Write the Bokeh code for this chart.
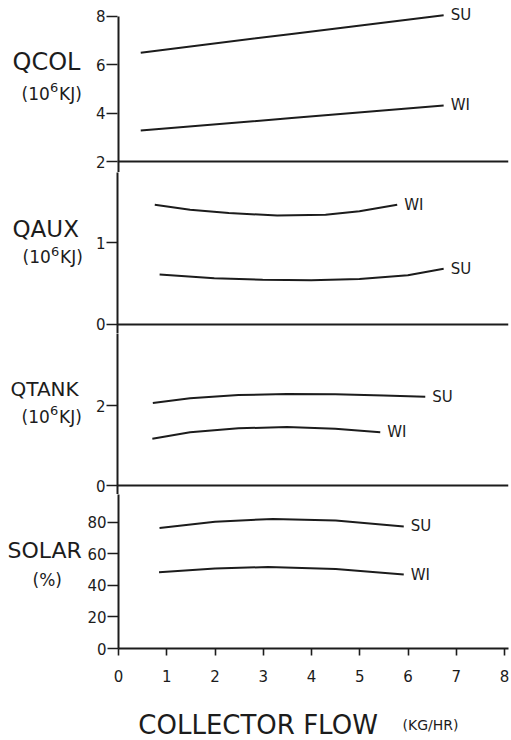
from bokeh.plotting import figure
from bokeh.layouts import column, row
from bokeh.models import Span, FixedTicker, Range1d
from bokeh.core.properties import value
from bokeh.embed import file_html
from bokeh.resources import INLINE

# ---------------- data ----------------
x_ticks = [0, 1, 2, 3, 4, 5, 6, 7, 8]
x_label = "COLLECTOR FLOW"
x_unit = "(KG/HR)"
energy_unit = ["(10", "6", "KJ)"]   # (10^6 KJ), drawn with a raised 6

# QCOL (10^6 KJ)
qcol_name = "QCOL"
qcol_ticks = [2, 4, 6, 8]
qcol_su_x = [0.48, 3.6, 6.74]
qcol_su_y = [6.50, 7.28, 8.05]
qcol_wi_x = [0.48, 3.6, 6.74]
qcol_wi_y = [3.28, 3.80, 4.32]

# QAUX (10^6 KJ)
qaux_name = "QAUX"
qaux_ticks = [0, 1]
qaux_wi_x = [0.77, 1.5, 2.3, 3.3, 4.3, 5.0, 5.78]
qaux_wi_y = [1.46, 1.40, 1.36, 1.33, 1.34, 1.38, 1.46]
qaux_su_x = [0.87, 2.0, 3.0, 4.0, 5.0, 6.0, 6.74]
qaux_su_y = [0.61, 0.565, 0.545, 0.54, 0.555, 0.60, 0.68]

# QTANK (10^6 KJ)
qtank_name = "QTANK"
qtank_ticks = [0, 2]
qtank_su_x = [0.73, 1.5, 2.5, 3.5, 4.5, 5.5, 6.36]
qtank_su_y = [2.06, 2.18, 2.26, 2.29, 2.28, 2.25, 2.22]
qtank_wi_x = [0.72, 1.5, 2.5, 3.5, 4.5, 5.43]
qtank_wi_y = [1.17, 1.33, 1.43, 1.46, 1.42, 1.33]

# SOLAR (%)
solar_name, solar_unit = "SOLAR", "(%)"
solar_ticks = [0, 20, 40, 60, 80]
solar_su_x = [0.85, 2.0, 3.2, 4.5, 5.91]
solar_su_y = [76.3, 80.3, 82.0, 81.0, 77.3]
solar_wi_x = [0.84, 2.0, 3.1, 4.5, 5.91]
solar_wi_y = [48.2, 50.6, 51.6, 50.3, 46.8]

series_su = "SU"
series_wi = "WI"

# ---------------- styling ----------------
INK = "#1c1c1c"
FONT = "DejaVu Sans"
LW = 84          # width of the left-hand caption strip
PW = 511 - LW    # width of each panel figure
x_range = Range1d(0, 8.08)


def bare(p):
    p.outline_line_color = None
    p.xgrid.visible = False
    p.ygrid.visible = False
    p.background_fill_color = "white"
    p.border_fill_color = "white"


def make_panel(height, y_range, ticks, border_top=0, border_bottom=0, xaxis=False):
    p = figure(width=PW, height=height, x_range=x_range, y_range=y_range,
               output_backend="svg", toolbar_location=None,
               x_axis_location="below" if xaxis else None,
               min_border_left=117 - LW, min_border_right=3,
               min_border_top=border_top, min_border_bottom=border_bottom)
    bare(p)
    ax = p.yaxis[0]
    ax.ticker = FixedTicker(ticks=ticks)
    ax.major_tick_out = 11
    ax.major_tick_in = 0
    ax.minor_tick_out = 0
    ax.minor_tick_in = 0
    ax.axis_line_width = 2
    ax.axis_line_color = INK
    ax.major_tick_line_width = 1.6
    ax.major_tick_line_color = INK
    ax.major_label_standoff = 1
    ax.major_label_text_font = FONT
    ax.major_label_text_font_size = "15px"
    ax.major_label_text_color = INK
    return p


def make_caption(height, y_range, border_top=0, border_bottom=0):
    c = figure(width=LW, height=height, x_range=Range1d(0, LW), y_range=y_range,
               output_backend="svg", toolbar_location=None,
               x_axis_location=None, y_axis_location=None,
               min_border_left=0, min_border_right=0,
               min_border_top=border_top, min_border_bottom=border_bottom)
    bare(c)
    return c


def cap_text(c, x, y, txt, size, dy=0):
    c.text(x=[x], y=[y], text=[txt], text_font=value(FONT), text_font_size=size,
           text_color=INK, text_baseline="middle", text_align="left", y_offset=dy)


def cap_energy_unit(c, x, y):
    cap_text(c, x, y, energy_unit[0], "17px")
    cap_text(c, x + 28.5, y, energy_unit[1], "13px", dy=-6)
    cap_text(c, x + 37.5, y, energy_unit[2], "17px")


def draw(p, xs, ys, name):
    p.line(xs, ys, line_color=INK, line_width=2)
    p.text(x=[xs[-1]], y=[ys[-1]], text=[name], x_offset=7,
           text_font=value(FONT), text_font_size="15px", text_color=INK,
           text_baseline="middle", text_align="left")


def separator(p, loc):
    p.add_layout(Span(location=loc, dimension="width", line_color=INK, line_width=2))


# panel 1: QCOL
yr1 = Range1d(1.545, 8.662)
p1 = make_panel(172, yr1, qcol_ticks)
p1.yaxis[0].axis_line_color = None
p1.line([x_ticks[0], x_ticks[0]], [yr1.start, qcol_ticks[-1]], line_color=INK, line_width=4)
draw(p1, qcol_su_x, qcol_su_y, series_su)
draw(p1, qcol_wi_x, qcol_wi_y, series_wi)
separator(p1, qcol_ticks[0])
c1 = make_caption(172, yr1)
cap_text(c1, 12, 6.10, qcol_name, "24px")
cap_energy_unit(c1, 21, 4.80)

# panel 2: QAUX
yr2 = Range1d(-0.11, 1.854)
p2 = make_panel(161, yr2, qaux_ticks)
draw(p2, qaux_wi_x, qaux_wi_y, series_wi)
draw(p2, qaux_su_x, qaux_su_y, series_su)
separator(p2, qaux_ticks[0])
c2 = make_caption(161, yr2)
cap_text(c2, 12, 1.17, qaux_name, "23px")
cap_energy_unit(c2, 22, 0.82)

# panel 3: QTANK
yr3 = Range1d(-0.225, 3.8)
p3 = make_panel(161, yr3, qtank_ticks)
draw(p3, qtank_su_x, qtank_su_y, series_su)
draw(p3, qtank_wi_x, qtank_wi_y, series_wi)
separator(p3, qtank_ticks[0])
c3 = make_caption(161, yr3)
cap_text(c3, 10, 2.42, qtank_name, "20px")
cap_energy_unit(c3, 21, 1.72)

# panel 4: SOLAR with the shared x axis
yr4 = Range1d(0, 97.5)
p4 = make_panel(198, yr4, solar_ticks, border_bottom=44, xaxis=True)
draw(p4, solar_su_x, solar_su_y, series_su)
draw(p4, solar_wi_x, solar_wi_y, series_wi)
xa = p4.xaxis[0]
xa.ticker = FixedTicker(ticks=x_ticks)
xa.major_tick_out = 7
xa.major_tick_in = 0
xa.minor_tick_out = 0
xa.minor_tick_in = 0
xa.axis_line_width = 2
xa.axis_line_color = INK
xa.major_tick_line_width = 1.6
xa.major_tick_line_color = INK
xa.major_label_standoff = 14
xa.major_label_text_font = FONT
xa.major_label_text_font_size = "15px"
xa.major_label_text_color = INK
c4 = make_caption(198, yr4, border_bottom=44)
cap_text(c4, 7, 62, solar_name, "22px")
cap_text(c4, 32, 43.5, solar_unit, "17px")

# x-axis title strip
t = figure(width=511, height=46, x_range=x_range, y_range=Range1d(0, 46),
           output_backend="svg", toolbar_location=None,
           x_axis_location=None, y_axis_location=None,
           min_border_left=117, min_border_right=3, min_border_top=0, min_border_bottom=0)
bare(t)
t.text(x=[0.43], y=[14], text=[x_label], text_font=value(FONT), text_font_size="26px",
       text_color=INK, text_baseline="middle", text_align="left")
t.text(x=[5.89], y=[14], text=[x_unit], text_font=value(FONT), text_font_size="14px",
       text_color=INK, text_baseline="middle", text_align="left")

layout = column(row(c1, p1, spacing=0), row(c2, p2, spacing=0),
                row(c3, p3, spacing=0), row(c4, p4, spacing=0), t, spacing=0)
open("out.html", "w").write(file_html(layout, INLINE))
